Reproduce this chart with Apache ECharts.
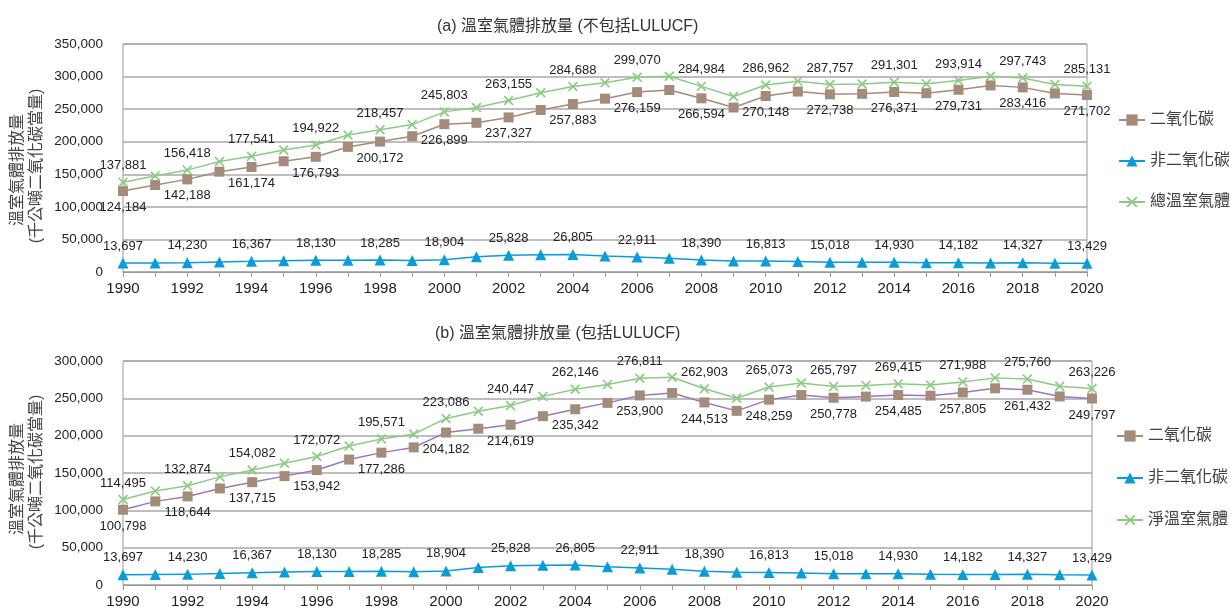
<!DOCTYPE html>
<html>
<head>
<meta charset="utf-8">
<script src="https://cdn.jsdelivr.net/npm/echarts@6/dist/echarts.min.js"></script>
<style>html,body{margin:0;padding:0;background:#fff}#c{width:1231px;height:610px}</style>
</head>
<body>
<div id="c"></div>
<script>
var years = [];
for (var y = 1990; y <= 2020; y++) years.push(String(y));

var nonCO2 = [13697,13900,14230,15500,16367,17300,18130,18200,18285,17800,18904,23400,25828,26500,26805,24500,22911,21000,18390,17000,16813,16000,15018,15000,14930,14300,14182,14000,14327,13600,13429];
var co2A = [124184,133500,142188,154000,161174,170000,176793,192000,200172,208500,226899,229000,237327,248700,257883,266100,276159,279400,266594,252500,270148,277000,272738,273500,276371,274500,279731,286400,283416,274100,271702];
var totalA = [137881,147400,156418,169500,177541,187300,194922,210200,218457,226300,245803,252400,263155,275200,284688,290600,299070,300400,284984,269500,286962,293000,287757,288500,291301,288800,293914,300400,297743,287700,285131];
var co2B = [100798,112000,118644,129300,137715,145800,153942,168000,177286,184300,204182,209300,214619,226100,235342,243900,253900,257200,244513,233200,248259,254500,250778,252300,254485,253600,257805,263400,261432,252500,249797];
var totalB = [114495,125900,132874,144800,154082,163100,172072,186200,195571,202100,223086,232700,240447,252600,262146,268400,276811,278200,262903,250200,265073,270500,265797,267300,269415,267900,271988,277400,275760,266100,263226];

var titleA = '(a) 溫室氣體排放量 (不包括LULUCF)';
var titleB = '(b) 溫室氣體排放量 (包括LULUCF)';
var yName1 = '溫室氣體排放量';
var yName2 = '(千公噸二氧化碳當量)';
var nameCO2 = '二氧化碳', nameNon = '非二氧化碳', nameTotA = '總溫室氣體', nameTotB = '淨溫室氣體';

var NUMF = "'Liberation Sans Narrow','Liberation Sans',Arial,sans-serif";
var CJK = "'Liberation Sans','Noto Sans CJK TC',sans-serif";
var C_CO2 = '#A58C7A', C_CO2B_LINE = '#9878C2', C_NON = '#0A9CD8', C_TOT = '#8DCB85';
var XSYM = 'path://M0,1.2L1.2,0L5,3.8L8.8,0L10,1.2L6.2,5L10,8.8L8.8,10L5,6.2L1.2,10L0,8.8L3.8,5Z';

function fmt(v){ return String(v).replace(/\B(?=(\d{3})+(?!\d))/g, ','); }
function lab(pos){
  return { show:true, position:pos, distance:5, color:'#222', fontFamily:NUMF, fontSize:13,
    formatter:function(p){ return p.dataIndex % 2 === 0 ? fmt(p.value) : ''; } };
}
function xAxis(idx){
  return { type:'category', gridIndex:idx, data:years, boundaryGap:false,
    axisLine:{ lineStyle:{ color:'#999', width:1 } },
    axisTick:{ show:true, interval:0, length:5, lineStyle:{ color:'#999' } },
    axisLabel:{ interval:1, color:'#222', fontFamily:NUMF, fontSize:15, margin:9 },
    splitLine:{ show:false } };
}
function yAxis(idx, max){
  return { type:'value', gridIndex:idx, min:0, max:max, interval:50000,
    axisLine:{ show:false }, axisTick:{ show:false },
    axisLabel:{ color:'#222', fontFamily:NUMF, fontSize:13.5, margin:20, formatter:function(v){ return fmt(v); } },
    splitLine:{ lineStyle:{ color:'#a8a8a8', width:1.5 } } };
}
function series(name, data, idx, color, lineColor, sym, size, pos){
  return { name:name, type:'line', xAxisIndex:idx, yAxisIndex:idx, data:data,
    symbol:sym, symbolSize:size, showAllSymbol:true,
    itemStyle:{ color:color }, lineStyle:{ color:lineColor, width:1.5 },
    label:lab(pos), animation:false };
}
function vtext(txt, x, y){
  return { type:'text', x:x, y:y, rotation:Math.PI/2, silent:true,
    style:{ text:txt, fill:'#444', font:"16px " + CJK, textAlign:'center', textVerticalAlign:'middle' } };
}

var chart = echarts.init(document.getElementById('c'));
chart.setOption({
  backgroundColor:'#fff',
  animation:false,
  title:[
    { text:titleA, left:432, top:14, textStyle:{ fontFamily:CJK, fontSize:16, fontWeight:'normal', color:'#333' } },
    { text:titleB, left:430, top:321, textStyle:{ fontFamily:CJK, fontSize:16, fontWeight:'normal', color:'#333' } }
  ],
  graphic:[
    vtext(yName1, 18, 170), vtext(yName2, 37, 166),
    vtext(yName1, 18, 479), vtext(yName2, 37, 472)
  ],
  legend:[
    { data:[nameCO2, nameNon, nameTotA], orient:'vertical', left:1113, top:107, itemWidth:26, itemHeight:14, itemGap:25,
      textStyle:{ fontFamily:CJK, fontSize:16, color:'#404040' } },
    { data:[nameCO2, nameNon, nameTotB], orient:'vertical', left:1111, top:423, itemWidth:26, itemHeight:14, itemGap:26,
      textStyle:{ fontFamily:CJK, fontSize:16, color:'#404040' } }
  ],
  grid:[
    { left:123, right:144, top:44, height:228, show:true, borderColor:'#999', borderWidth:1, backgroundColor:'transparent', containLabel:false, outerBoundsMode:'none' },
    { left:123, right:139, top:361, height:224, show:true, borderColor:'#999', borderWidth:1, backgroundColor:'transparent', containLabel:false, outerBoundsMode:'none' }
  ],
  xAxis:[ xAxis(0), xAxis(1) ],
  yAxis:[ yAxis(0, 350000), yAxis(1, 300000) ],
  series:[
    series(nameCO2, co2A, 0, C_CO2, C_CO2, 'rect', 10, 'bottom'),
    series(nameNon, nonCO2, 0, C_NON, C_NON, 'triangle', 11, 'top'),
    series(nameTotA, totalA, 0, C_TOT, C_TOT, XSYM, 10, 'top'),
    series(nameCO2, co2B, 1, C_CO2, C_CO2B_LINE, 'rect', 10, 'bottom'),
    series(nameNon, nonCO2, 1, C_NON, C_NON, 'triangle', 11, 'top'),
    series(nameTotB, totalB, 1, C_TOT, C_TOT, XSYM, 10, 'top')
  ]
});
</script>
</body>
</html>
